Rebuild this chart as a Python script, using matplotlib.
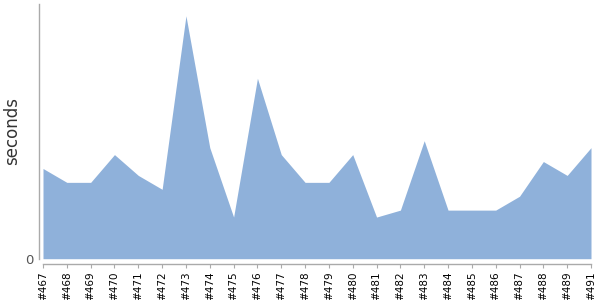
import matplotlib.pyplot as plt

builds = ["#467", "#468", "#469", "#470", "#471", "#472", "#473", "#474",
          "#475", "#476", "#477", "#478", "#479", "#480", "#481", "#482",
          "#483", "#484", "#485", "#486", "#487", "#488", "#489", "#491"]
durations = [13, 11, 11, 15, 12, 10, 35, 16, 6, 26, 15, 11, 11, 15, 6, 7,
             17, 7, 7, 7, 9, 14, 12, 16]

fig = plt.figure(figsize=(6, 3), dpi=100)
ax = fig.add_axes([43 / 600, 41.3 / 300, 548 / 600, 254.7 / 300])

# spines first: moving them resets the tick label styling
ax.spines["top"].set_visible(False)
ax.spines["right"].set_visible(False)
ax.spines["left"].set_position(("outward", 3))
ax.spines["bottom"].set_position(("outward", 4))
for s in ("left", "bottom"):
    ax.spines[s].set_color("#aaaaaa")
    ax.spines[s].set_linewidth(1)

x = list(range(len(builds)))
ax.fill_between(x, 0, durations, color="#8fb1da", linewidth=0)

ax.set_xlim(0, len(builds) - 1)
ax.set_ylim(0, 36.7)
ax.set_xticks(x)
ax.set_xticklabels(builds, rotation=90, fontsize=7.5, color="black")
ax.set_yticks([0])
ax.set_yticklabels(["0"], fontsize=9.5, color="#555555")
ax.tick_params(axis="x", length=3, color="#aaaaaa", pad=2)
ax.tick_params(axis="y", length=0, pad=4)

ax.set_ylabel("seconds", fontsize=12, color="#333333")
ax.yaxis.set_label_coords(-22 / 548, 0.5)

fig.savefig("out.png", dpi=100)
